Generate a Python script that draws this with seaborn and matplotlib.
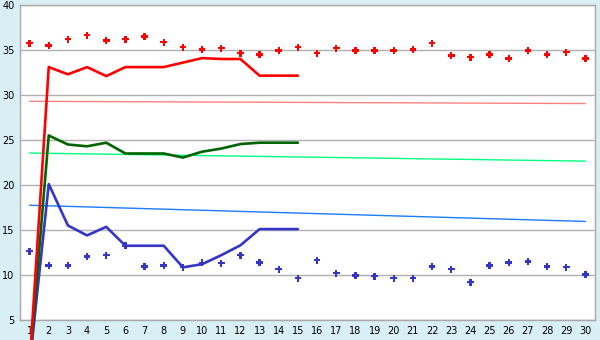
import numpy as np
import pandas as pd
import matplotlib
matplotlib.use("Agg")
import matplotlib.pyplot as plt
import seaborn as sns

# categories
x_all = list(range(1, 31))
x_line = list(range(1, 16))

# main lines (x 1..15)
red_line = [0.0, 33.1, 32.3, 33.1, 32.1, 33.1, 33.1, 33.1, 33.6, 34.1, 34.0, 34.0, 32.15, 32.15, 32.15]
green_line = [0.0, 25.5, 24.5, 24.3, 24.7, 23.5, 23.5, 23.5, 23.05, 23.7, 24.05, 24.55, 24.7, 24.7, 24.7]
blue_line = [0.0, 20.1, 15.5, 14.4, 15.35, 13.25, 13.25, 13.25, 10.85, 11.2, 12.2, 13.3, 15.1, 15.1, 15.1]

# scattered points (x 1..30)
red_pts = [35.75, 35.5, 36.2, 36.65, 36.05, 36.2, 36.5, 35.85, 35.3, 35.05,
           35.2, 34.65, 34.5, 34.95, 35.3, 34.65, 35.2, 34.95, 34.95, 34.95,
           35.05, 35.75, 34.4, 34.2, 34.5, 34.05, 34.95, 34.5, 34.75, 34.05]
blue_pts = [12.65, 11.05, 11.05, 12.05, 12.2, 13.25, 10.95, 11.05, 10.85, 11.35,
            11.3, 12.2, 11.4, 10.65, 9.65, 11.65, 10.2, 9.95, 9.85, 9.65,
            9.65, 10.95, 10.65, 9.2, 11.05, 11.4, 11.5, 10.95, 10.85, 10.05]

# trend lines (start at x=1, end at x=30)
trend_x = [1, 30]
red_trend = [29.3, 29.05]
green_trend = [23.55, 22.65]
blue_trend = [17.75, 15.95]

y_ticks = [5, 10, 15, 20, 25, 30, 35, 40]

sns.set_style("white")
plt.rcParams['font.family'] = ['DejaVu Sans']

fig = plt.figure(figsize=(6, 3.4), dpi=100)
fig.patch.set_facecolor('#d9eff6')
ax = fig.add_axes([20/600, 1-320/340, 575/600, 315/340])
ax.set_facecolor('white')

df_lines = pd.DataFrame({'x': x_line, 'red': red_line, 'green': green_line, 'blue': blue_line})
df_pts = pd.DataFrame({'x': x_all, 'red': red_pts, 'blue': blue_pts})
df_tr = pd.DataFrame({'x': trend_x, 'red': red_trend, 'green': green_trend, 'blue': blue_trend})

for col, c in [('red', '#ff8080'), ('green', '#00ff80'), ('blue', '#1a7cff')]:
    sns.lineplot(data=df_tr, x='x', y=col, color=c, linewidth=1.0, ax=ax, zorder=2)

for col, c in [('red', '#ff0000'), ('blue', '#3535c8')]:
    sns.scatterplot(data=df_pts, x='x', y=col, color=c, marker='P', s=24,
                    edgecolor='none', linewidth=0, ax=ax, zorder=3)

for col, c in [('blue', '#3535c8'), ('green', '#006400'), ('red', '#ff0000')]:
    sns.lineplot(data=df_lines, x='x', y=col, color=c, linewidth=1.9, ax=ax, zorder=4)
for line in ax.get_lines():
    line.set_clip_on(False)

ax.set_xlim(0.5, 30.5)
ax.set_ylim(5, 40)
ax.set_yticks(y_ticks)
ax.set_xticks(x_all)
ax.set_xticklabels([str(v) for v in x_all])
ax.yaxis.grid(True, color='#b0b0b0', linewidth=1.0)
ax.set_axisbelow(True)
for s in ax.spines.values():
    s.set_visible(True)
    s.set_color('#a8a8a8')
    s.set_linewidth(1.0)
ax.tick_params(axis='both', direction='out', length=2.5, width=0.8, color='black',
               labelsize=7, labelcolor='black', pad=1.5)
ax.set_xlabel('')
ax.set_ylabel('')

fig.savefig('out.png', dpi=100, facecolor=fig.get_facecolor())
